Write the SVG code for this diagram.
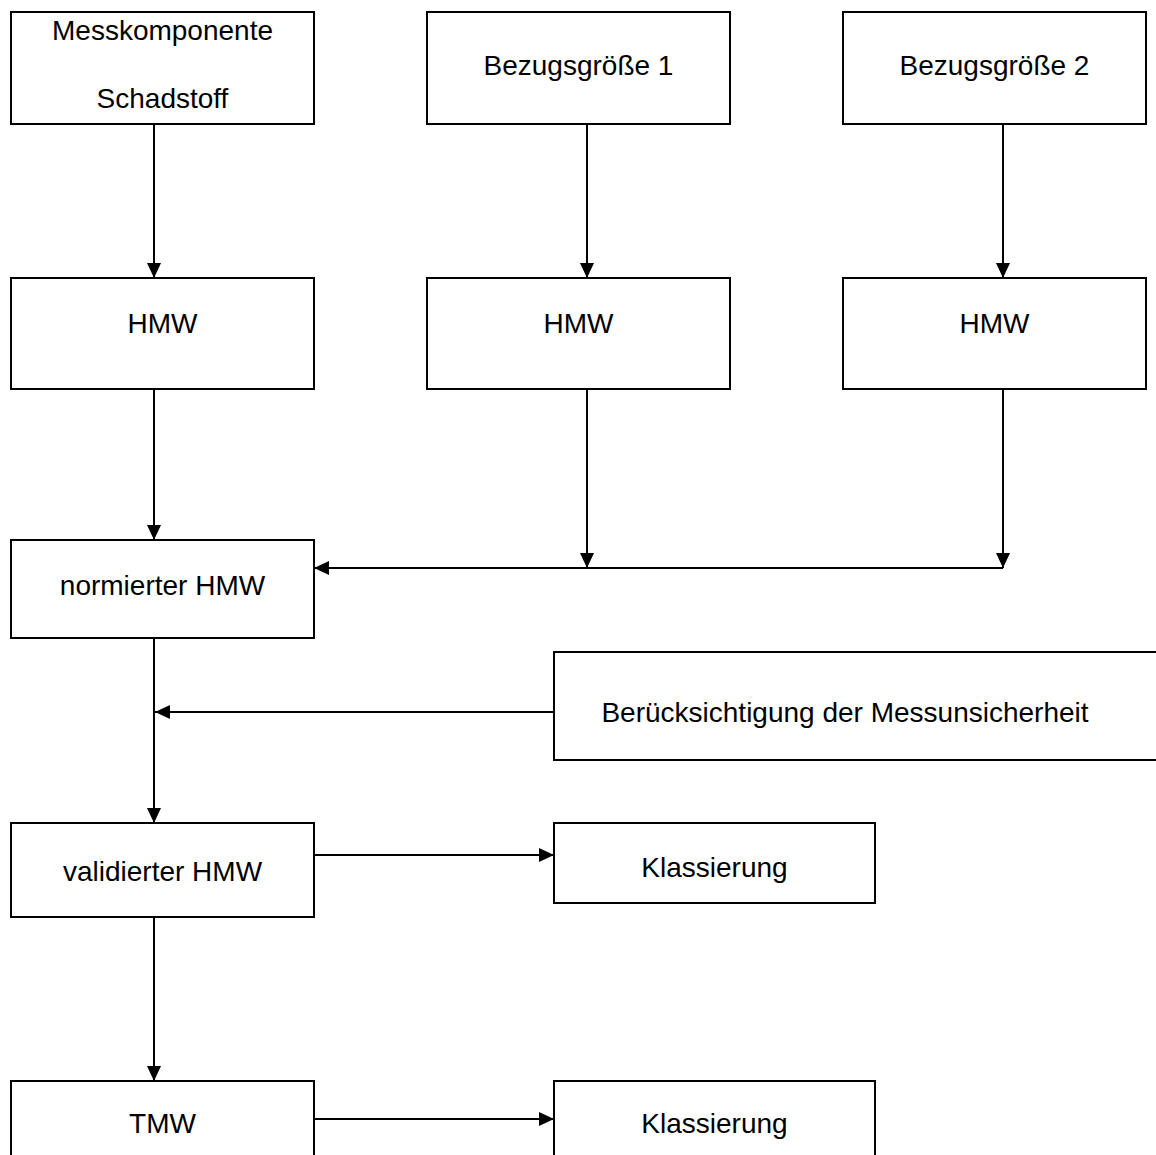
<svg xmlns="http://www.w3.org/2000/svg" width="1156" height="1155" viewBox="0 0 1156 1155">
<style>
.box{fill:#fff;stroke:#000;stroke-width:2}
.t{font-family:"Liberation Sans",Arial,sans-serif;font-size:28px;fill:#000;text-anchor:middle}
.c{fill:none;stroke:#000;stroke-width:2}
</style>
<defs>
<marker id="ah" markerUnits="userSpaceOnUse" markerWidth="16" markerHeight="16" refX="15" refY="7" orient="auto">
<path d="M0,0 L15,7 L0,14 Z" fill="#000"/>
</marker>
</defs>
<rect width="1156" height="1155" fill="#fff"/>
<g id="connectors">
<line class="c" x1="154" y1="124" x2="154" y2="278" marker-end="url(#ah)"/>
<line class="c" x1="587" y1="124" x2="587" y2="278" marker-end="url(#ah)"/>
<line class="c" x1="1003" y1="124" x2="1003" y2="278" marker-end="url(#ah)"/>
<line class="c" x1="154" y1="389" x2="154" y2="540" marker-end="url(#ah)"/>
<line class="c" x1="587" y1="389" x2="587" y2="568" marker-end="url(#ah)"/>
<line class="c" x1="1003" y1="389" x2="1003" y2="568" marker-end="url(#ah)"/>
<line class="c" x1="1003" y1="568" x2="314" y2="568" marker-end="url(#ah)"/>
<line class="c" x1="154" y1="638" x2="154" y2="823" marker-end="url(#ah)"/>
<line class="c" x1="554" y1="712" x2="155" y2="712" marker-end="url(#ah)"/>
<line class="c" x1="314" y1="855" x2="554" y2="855" marker-end="url(#ah)"/>
<line class="c" x1="154" y1="917" x2="154" y2="1081" marker-end="url(#ah)"/>
<line class="c" x1="314" y1="1119" x2="554" y2="1119" marker-end="url(#ah)"/>
</g>
<g id="n1"><rect class="box" x="11" y="12" width="303" height="112"/><text class="t" x="162.5" y="40">Messkomponente</text><text class="t" x="162.5" y="108">Schadstoff</text></g>
<g id="n2"><rect class="box" x="427" y="12" width="303" height="112"/><text class="t" x="578.5" y="75">Bezugsgröße 1</text></g>
<g id="n3"><rect class="box" x="843" y="12" width="303" height="112"/><text class="t" x="994.5" y="75">Bezugsgröße 2</text></g>
<g id="n4"><rect class="box" x="11" y="278" width="303" height="111"/><text class="t" x="162.5" y="333">HMW</text></g>
<g id="n5"><rect class="box" x="427" y="278" width="303" height="111"/><text class="t" x="578.5" y="333">HMW</text></g>
<g id="n6"><rect class="box" x="843" y="278" width="303" height="111"/><text class="t" x="994.5" y="333">HMW</text></g>
<g id="n7"><rect class="box" x="11" y="540" width="303" height="98"/><text class="t" x="162.5" y="595">normierter HMW</text></g>
<g id="n8"><rect class="box" x="554" y="652" width="610" height="108"/><text class="t" x="845" y="722">Berücksichtigung der Messunsicherheit</text></g>
<g id="n9"><rect class="box" x="11" y="823" width="303" height="94"/><text class="t" x="162.5" y="881">validierter HMW</text></g>
<g id="n10"><rect class="box" x="554" y="823" width="321" height="80"/><text class="t" x="714.5" y="877">Klassierung</text></g>
<g id="n11"><rect class="box" x="11" y="1081" width="303" height="90"/><text class="t" x="162.5" y="1133">TMW</text></g>
<g id="n12"><rect class="box" x="554" y="1081" width="321" height="90"/><text class="t" x="714.5" y="1133">Klassierung</text></g>
</svg>
